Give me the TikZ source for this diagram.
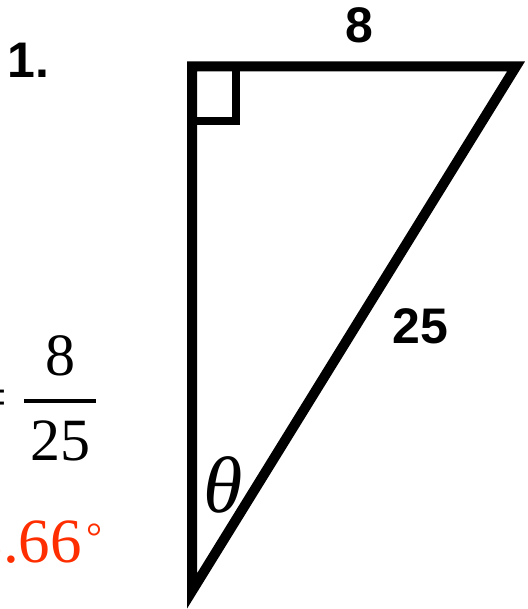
\documentclass[tikz,border=0pt]{standalone}
\usepackage{fontspec}
\setmainfont{Liberation Serif}
\newfontfamily\labelfont{Liberation Sans}
\usepackage{xcolor}
\usetikzlibrary{positioning}
\definecolor{ans}{HTML}{FF2E00}

\begin{document}
\begin{tikzpicture}[x=1pt,y=-1pt,
  side/.style={line width=10pt,line join=miter,miter limit=10},
  lbl/.style={font=\labelfont\bfseries\fontsize{50}{50}\selectfont,inner sep=0pt},
  frac/.style={font=\fontsize{60}{60}\selectfont,inner sep=0pt}]
\useasboundingbox (0,0) rectangle (527,609);
\clip (0,0) rectangle (527,609);
\coordinate (A) at (192,66.5);
\coordinate (B) at (516,66.5);
\coordinate (C) at (192,591);
\draw[side] (A) -- (B) -- (C) -- cycle;
\draw[line width=8pt] (192,121) -- (236,121) -- (236,66.5);
\node[lbl,anchor=base] (top) at (359,43) {8};
\node[lbl,anchor=base] (hyp) at (420,343) {25};
\node[lbl,anchor=base west] (num) at (7,78) {1.};
\node[frac,anchor=base] (f8) at (60,375) {8};
\node[frac,anchor=base] (f25) at (60,460) {25};
\coordinate (barl) at (24,401);
\coordinate (barr) at (96,401);
\draw[line width=4pt] (barl) -- (barr);
\node[frac,anchor=east] (eq) at (8,404) {=};
\node[frac,anchor=base east,text=ans,font=\fontsize{63}{63}\selectfont] (res) at (103,562)
  {8.66\kern5pt\raisebox{12pt}{\fontsize{40}{40}\selectfont °}};
\node[frac,anchor=base,font=\itshape\fontsize{80}{80}\selectfont] (th) at (223,512) {θ};
\end{tikzpicture}
\end{document}
